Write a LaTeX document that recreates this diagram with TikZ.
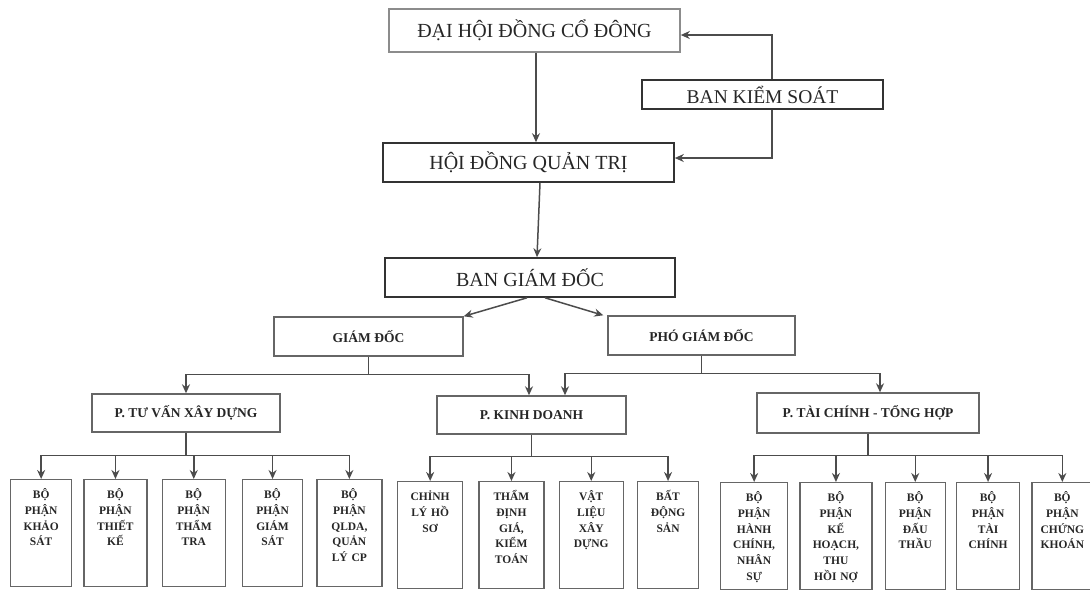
\documentclass[tikz,border=0pt]{standalone}
\usepackage{fontspec}
\setmainfont{Liberation Serif}
\usetikzlibrary{positioning,arrows.meta}

\begin{document}
\begin{tikzpicture}[x=1pt,y=-1pt]
	\tikzstyle{every node}=[inner sep=0pt, text=black!85]
	\tikzstyle{topbox}=[draw=black!80, line width=1.6pt, font=\fontsize{20}{24}\selectfont]
	\tikzstyle{midbox}=[draw=black!60, line width=1.4pt, font=\bfseries\fontsize{13.5}{16}\selectfont]
	\tikzstyle{unitbox}=[draw=black!60, line width=1.3pt, align=center, inner ysep=10pt, text height=9pt, text depth=78pt, font=\bfseries\fontsize{11.5}{15.7}\selectfont]
	\tikzstyle{every edge}=[draw,->,>={Stealth[length=9pt,width=8pt]},black!70,line width=1.5pt]
	\tikzstyle{link}=[draw,black!70,line width=1.5pt]
	\tikzstyle{elbow}=[to path={|- (\tikztotarget)}]
	\tikzstyle{bus}=[to path={-| (\tikztotarget)}]

	\useasboundingbox (0,0) rectangle (1090,590);

	% upper levels
	\node[topbox, draw=black!45, minimum width=291pt, minimum height=43pt] (dhd) at (534.5,30.5) {ĐẠI HỘI ĐỒNG CỔ ĐÔNG};
	\node[topbox, minimum width=241pt, minimum height=29pt, font=\fontsize{19.5}{24}\selectfont] (bks) at (762.5,94.5) {BAN KIỂM SOÁT};
	\node[topbox, minimum width=291pt, minimum height=39pt] (hdqt) at (528.5,162.5) {HỘI ĐỒNG QUẢN TRỊ};
	\node[topbox, minimum width=290pt, minimum height=39pt] (bgd) at (530,277.5) {BAN GIÁM ĐỐC};
	\node[midbox, minimum width=189pt, minimum height=39pt] (gd) at (368.5,336.5) {GIÁM ĐỐC};
	\node[midbox, minimum width=187pt, minimum height=39pt] (pgd) at (701.5,335.5) {PHÓ GIÁM ĐỐC};
	\node[midbox, minimum width=188pt, minimum height=38pt] (ptv) at (186,413) {P. TƯ VẤN XÂY DỰNG};
	\node[midbox, minimum width=189pt, minimum height=38pt] (pkd) at (531.5,415) {P. KINH DOANH};
	\node[midbox, minimum width=222pt, minimum height=40pt] (ptc) at (868,413) {P. TÀI CHÍNH - TỔNG HỢP};

	% units
	\node[unitbox, text width=61pt, anchor=north west] (b1) at (10,479) {BỘ\\PHẬN\\KHẢO\\SÁT};
	\node[unitbox, text width=63pt, right=11pt of b1] (b2) {BỘ\\PHẬN\\THIẾT\\KẾ};
	\node[unitbox, text width=63pt, right=14pt of b2] (b3) {BỘ\\PHẬN\\THẨM\\TRA};
	\node[unitbox, text width=60pt, right=16pt of b3] (b4) {BỘ\\PHẬN\\GIÁM\\SÁT};
	\node[unitbox, text width=65pt, right=13pt of b4] (b5) {BỘ\\PHẬN\\QLDA,\\QUẢN\\LÝ CP};

	\node[unitbox, text width=65pt, anchor=north west] (c1) at (397,481) {CHỈNH\\LÝ HỒ\\SƠ};
	\node[unitbox, text width=65pt, right=15pt of c1] (c2) {THẨM\\ĐỊNH\\GIÁ,\\KIỂM\\TOÁN};
	\node[unitbox, text width=64pt, right=14pt of c2] (c3) {VẬT\\LIỆU\\XÂY\\DỰNG};
	\node[unitbox, text width=61pt, right=13pt of c3] (c4) {BẤT\\ĐỘNG\\SẢN};

	\node[unitbox, text width=67pt, anchor=north west] (d1) at (720,482) {BỘ\\PHẬN\\HÀNH\\CHÍNH,\\NHÂN\\SỰ};
	\node[unitbox, text width=72pt, right=11pt of d1] (d2) {BỘ\\PHẬN\\KẾ\\HOẠCH,\\THU\\HỒI NỢ};
	\node[unitbox, text width=60pt, right=12pt of d2] (d3) {BỘ\\PHẬN\\ĐẤU\\THẦU};
	\node[unitbox, text width=63pt, right=10pt of d3] (d4) {BỘ\\PHẬN\\TÀI\\CHÍNH};
	\node[unitbox, text width=61pt, right=11pt of d4] (d5) {BỘ\\PHẬN\\CHỨNG\\KHOÁN};

	% bus points
	\coordinate (gdbus) at ([yshift=-18pt]gd.south);
	\coordinate (pgdbus) at ([yshift=-18pt]pgd.south);
	\coordinate (tvbus) at ([yshift=-23pt]ptv.south);
	\coordinate (kdbus) at ([yshift=-22pt]pkd.south);
	\coordinate (tcbus) at ([yshift=-22pt]ptc.south);

	% connectors
	\draw ([xshift=1.5pt]dhd.south) edge ([xshift=7.5pt]hdqt.north);
	\draw ([xshift=9.5pt]bks.north) edge[elbow] ([yshift=-4.5pt]dhd.east)
	([xshift=9.5pt]bks.south) edge[elbow] ([yshift=4.5pt]hdqt.east);
	\draw ([xshift=11.5pt]hdqt.south) edge ([xshift=7pt]bgd.north);
	\draw ([xshift=-3pt]bgd.south) edge (gd.north east)
	([xshift=15pt]bgd.south) edge ([xshift=-4pt]pgd.north west);

	\draw[link] (gd.south) -- (gdbus);
	\draw (gdbus) edge[bus] (ptv.north)
	(gdbus) edge[bus] ([xshift=-2.5pt]pkd.north);
	\draw[link] (pgd.south) -- (pgdbus);
	\draw (pgdbus) edge[bus] ([xshift=33.5pt]pkd.north)
	(pgdbus) edge[bus] ([xshift=12pt]ptc.north);

	\draw[link] (ptv.south) -- (tvbus);
	\draw (tvbus) edge[bus] (b1.north) (tvbus) edge[bus] (b2.north) (tvbus) edge[bus] (b3.north)
	(tvbus) edge[bus] (b4.north) (tvbus) edge[bus] (b5.north);
	\draw[link] (pkd.south) -- (kdbus);
	\draw (kdbus) edge[bus] (c1.north) (kdbus) edge[bus] (c2.north)
	(kdbus) edge[bus] (c3.north) (kdbus) edge[bus] (c4.north);
	\draw[link] (ptc.south) -- (tcbus);
	\draw (tcbus) edge[bus] (d1.north) (tcbus) edge[bus] (d2.north) (tcbus) edge[bus] (d3.north)
	(tcbus) edge[bus] (d4.north) (tcbus) edge[bus] (d5.north);
\end{tikzpicture}
\end{document}
